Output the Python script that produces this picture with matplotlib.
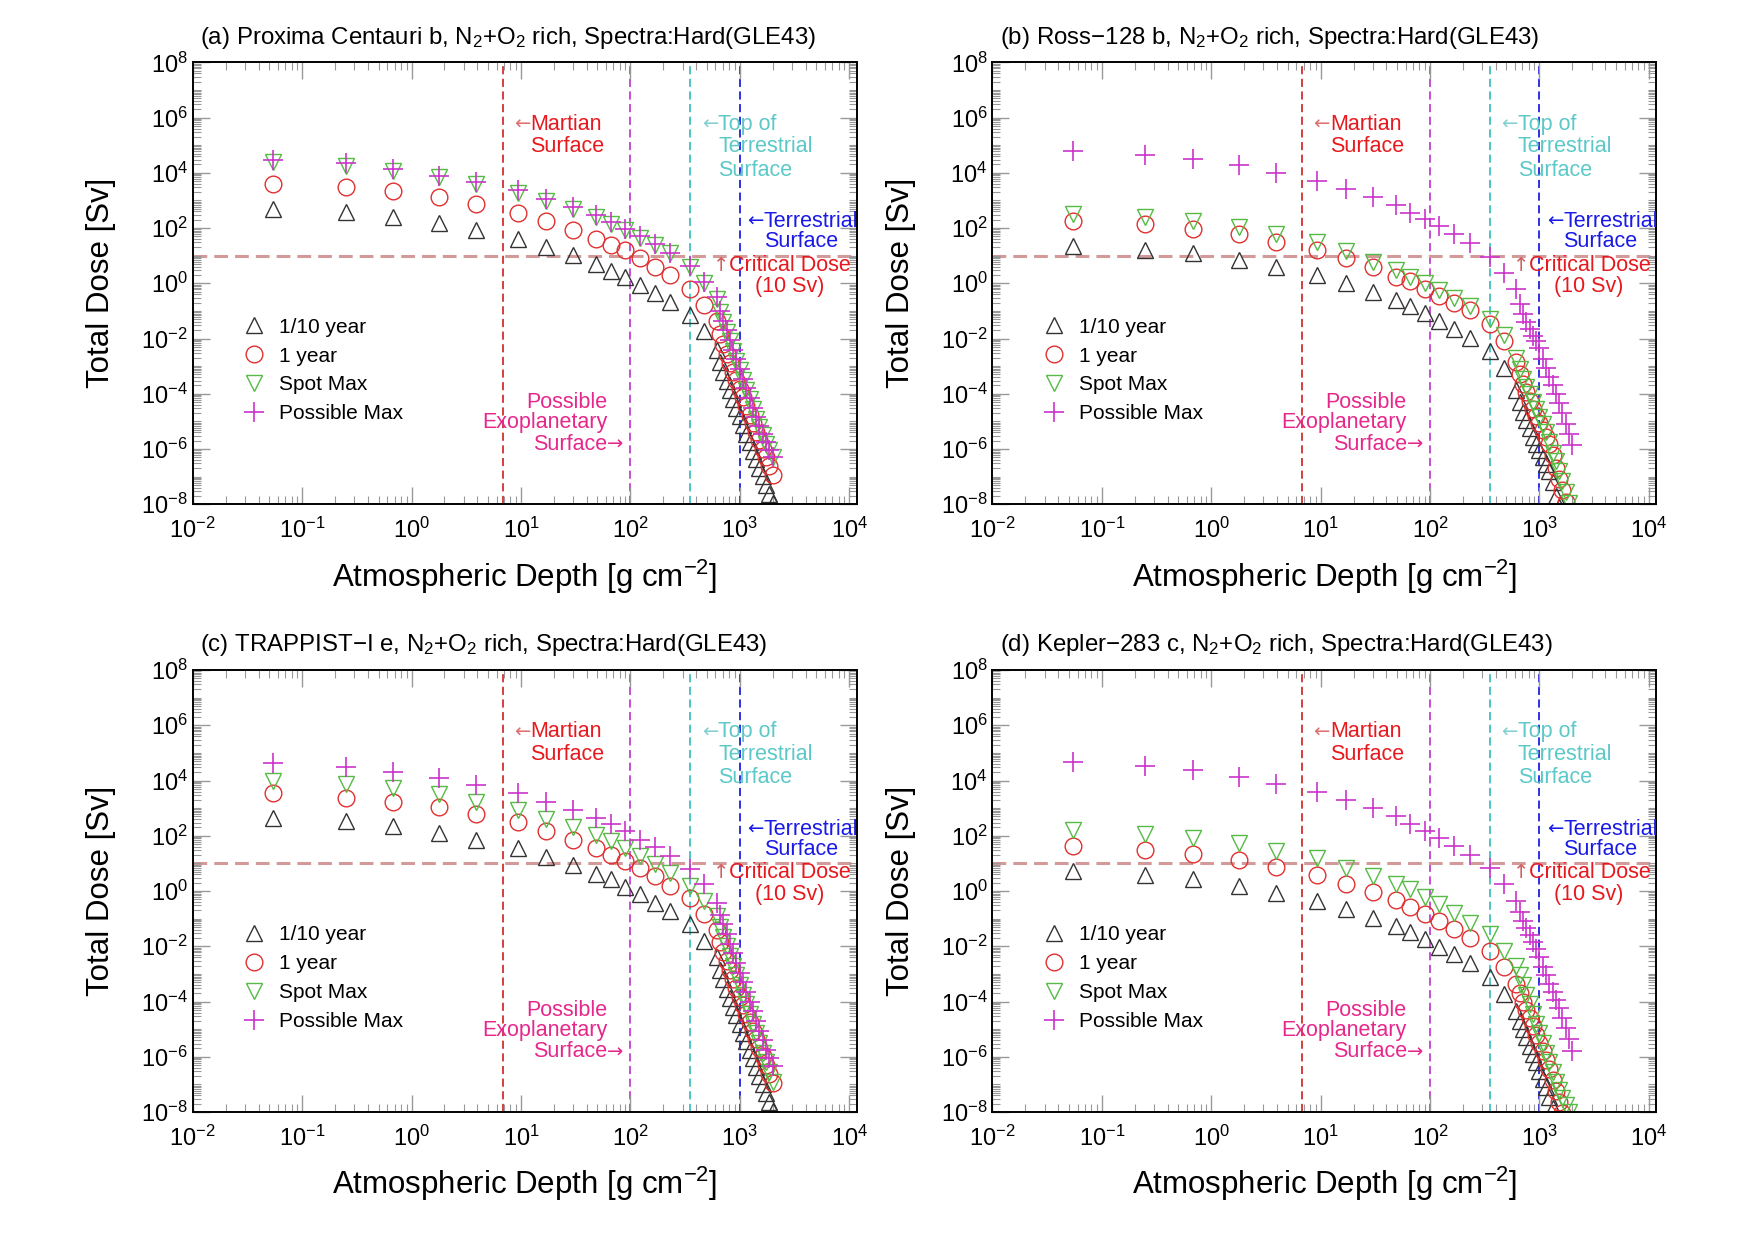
import numpy as np
import matplotlib
matplotlib.use("Agg")
import matplotlib.pyplot as plt
from matplotlib.ticker import LogLocator, NullFormatter

plt.rcParams['font.family'] = ['Liberation Sans', 'DejaVu Sans']
plt.rcParams['mathtext.fontset'] = 'custom'
plt.rcParams['mathtext.rm'] = 'Liberation Sans'
plt.rcParams['mathtext.it'] = 'Liberation Sans:italic'
plt.rcParams['mathtext.bf'] = 'Liberation Sans:bold'

# atmospheric depth [g cm^-2], shared by every series
depth = [0.054, 0.25, 0.68, 1.8, 3.9, 9.3, 17, 30, 49, 66, 90, 122, 167, 230, 350, 475,
         617, 661, 708, 759, 813, 871, 933, 1000, 1072, 1148, 1230, 1318, 1413, 1514,
         1622, 1738, 1862, 1995]

# total dose as log10(Sv)
tenth_a = [2.70, 2.58, 2.40, 2.18, 1.92, 1.62, 1.32, 1.02, 0.70, 0.46, 0.22, -0.06, -0.34, -0.66, -1.14, -1.74,
           -2.40, -2.85, -3.20, -3.55, -3.87, -4.20, -4.50, -4.82, -5.13, -5.44, -5.75, -6.06, -6.37, -6.68,
           -6.99, -7.30, -7.62, -7.95]
year_a = [3.60, 3.48, 3.33, 3.12, 2.86, 2.56, 2.24, 1.94, 1.62, 1.40, 1.20, 0.90, 0.60, 0.30, -0.20, -0.78,
          -1.38, -1.85, -2.20, -2.55, -2.87, -3.20, -3.50, -3.82, -4.13, -4.44, -4.75, -5.06, -5.37, -5.68,
          -5.99, -6.30, -6.62, -6.95]
spot_a = [4.38, 4.26, 4.06, 3.84, 3.60, 3.27, 2.98, 2.70, 2.40, 2.16, 1.92, 1.64, 1.38, 1.08, 0.58, 0.00,
          -0.58, -1.05, -1.40, -1.75, -2.10, -2.45, -2.80, -3.15, -3.50, -3.85, -4.20, -4.55, -4.90, -5.20,
          -5.50, -5.80, -6.05, -6.30]
poss_a = [4.48, 4.34, 4.14, 3.90, 3.66, 3.36, 3.06, 2.78, 2.46, 2.22, 1.96, 1.70, 1.42, 1.10, 0.62, 0.05,
          -0.50, -1.00, -1.35, -1.70, -2.05, -2.40, -2.75, -3.10, -3.45, -3.80, -4.15, -4.50, -4.85, -5.15,
          -5.45, -5.75, -6.05, -6.30]

tenth_b = [1.34, 1.22, 1.08, 0.84, 0.58, 0.30, 0.00, -0.30, -0.60, -0.84, -1.08, -1.36, -1.66, -1.98, -2.46, -3.06,
           -3.85, -4.30, -4.65, -4.95, -5.25, -5.55, -5.80, -6.05, -6.30, -6.55, -6.80, -7.20, -7.70, -8.10,
           -8.50, -8.90, -9.30, -9.70]
year_b = [2.26, 2.14, 1.98, 1.78, 1.50, 1.22, 0.92, 0.58, 0.24, 0.08, -0.22, -0.46, -0.72, -0.96, -1.48, -2.10,
          -2.85, -3.30, -3.65, -3.95, -4.25, -4.55, -4.80, -5.05, -5.30, -5.55, -5.80, -6.20, -6.70, -7.10,
          -7.50, -7.90, -8.30, -8.70]
spot_b = [2.52, 2.40, 2.26, 2.04, 1.80, 1.50, 1.18, 0.78, 0.48, 0.24, 0.00, -0.26, -0.54, -0.84, -1.30, -1.86,
          -2.70, -3.10, -3.45, -3.75, -4.00, -4.30, -4.55, -4.85, -5.10, -5.40, -5.75, -6.15, -6.45, -6.80,
          -7.15, -7.55, -7.95, -8.35]
poss_b = [4.80, 4.66, 4.50, 4.30, 4.01, 3.72, 3.42, 3.12, 2.82, 2.56, 2.34, 2.06, 1.80, 1.46, 0.96, 0.38,
          -0.22, -0.75, -1.10, -1.40, -1.65, -1.90, -2.10, -2.35, -2.75, -3.05, -3.40, -3.70, -4.00, -4.35,
          -4.70, -5.10, -5.45, -5.85]

tenth_c = [2.64, 2.52, 2.34, 2.10, 1.86, 1.54, 1.24, 0.94, 0.62, 0.42, 0.14, -0.12, -0.42, -0.74, -1.20, -1.80,
           -2.40, -2.85, -3.20, -3.55, -3.87, -4.20, -4.50, -4.82, -5.13, -5.44, -5.75, -6.06, -6.37, -6.68,
           -6.99, -7.30, -7.62, -7.95]
year_c = [3.54, 3.38, 3.22, 3.03, 2.79, 2.49, 2.16, 1.86, 1.56, 1.32, 1.08, 0.82, 0.54, 0.20, -0.26, -0.82,
          -1.42, -1.85, -2.20, -2.55, -2.87, -3.20, -3.50, -3.82, -4.13, -4.44, -4.75, -5.06, -5.37, -5.68,
          -5.99, -6.30, -6.62, -6.95]
spot_c = [3.99, 3.87, 3.72, 3.51, 3.24, 2.94, 2.62, 2.30, 2.04, 1.80, 1.56, 1.26, 0.98, 0.66, 0.18, -0.36,
          -0.90, -1.30, -1.65, -2.00, -2.35, -2.70, -3.05, -3.40, -3.75, -4.10, -4.45, -4.80, -5.15, -5.50,
          -5.85, -6.20, -6.55, -6.90]
poss_c = [4.62, 4.50, 4.32, 4.11, 3.84, 3.54, 3.24, 2.94, 2.64, 2.42, 2.16, 1.86, 1.58, 1.26, 0.80, 0.24,
          -0.42, -0.85, -1.20, -1.55, -1.90, -2.25, -2.60, -2.95, -3.30, -3.65, -4.00, -4.35, -4.70, -5.05,
          -5.40, -5.75, -6.05, -6.35]

tenth_d = [0.72, 0.58, 0.42, 0.18, -0.06, -0.36, -0.66, -0.96, -1.26, -1.50, -1.74, -2.02, -2.28, -2.62, -3.10, -3.72,
           -4.35, -4.70, -5.00, -5.30, -5.60, -5.90, -6.20, -6.50, -6.80, -7.10, -7.45, -7.85, -8.25, -8.65,
           -9.05, -9.45, -9.85, -10.25]
year_d = [1.62, 1.48, 1.34, 1.14, 0.86, 0.58, 0.26, -0.04, -0.34, -0.58, -0.82, -1.08, -1.38, -1.70, -2.16, -2.76,
          -3.36, -3.70, -4.00, -4.30, -4.60, -4.90, -5.20, -5.50, -5.80, -6.10, -6.45, -6.85, -7.25, -7.65,
          -8.05, -8.45, -8.85, -9.25]
spot_d = [2.22, 2.08, 1.92, 1.74, 1.46, 1.20, 0.84, 0.54, 0.24, 0.06, -0.22, -0.48, -0.78, -1.14, -1.56, -2.16,
          -2.70, -3.05, -3.40, -3.75, -4.10, -4.45, -4.80, -5.15, -5.50, -5.85, -6.20, -6.55, -6.90, -7.20,
          -7.50, -7.75, -8.00, -8.30]
poss_d = [4.66, 4.53, 4.38, 4.14, 3.87, 3.60, 3.30, 3.00, 2.70, 2.44, 2.18, 1.92, 1.62, 1.32, 0.84, 0.24,
          -0.36, -0.75, -1.08, -1.35, -1.60, -1.85, -2.10, -2.40, -2.75, -3.05, -3.35, -3.65, -3.95, -4.25,
          -4.60, -4.95, -5.35, -5.80]

titles = ["(a) Proxima Centauri b, N$_2$+O$_2$ rich, Spectra:Hard(GLE43)",
          "(b) Ross\u2212128 b, N$_2$+O$_2$ rich, Spectra:Hard(GLE43)",
          "(c) TRAPPIST\u2212I e, N$_2$+O$_2$ rich, Spectra:Hard(GLE43)",
          "(d) Kepler\u2212283 c, N$_2$+O$_2$ rich, Spectra:Hard(GLE43)"]
panels = [(tenth_a, year_a, spot_a, poss_a), (tenth_b, year_b, spot_b, poss_b),
          (tenth_c, year_c, spot_c, poss_c), (tenth_d, year_d, spot_d, poss_d)]
series_labels = ["1/10 year", "1 year", "Spot Max", "Possible Max"]

# reference depths
mars_depth = 6.8
exo_depth = 100
top_terr_depth = 352
terr_depth = 1000
critical_dose = 10

RED = '#e8191e'
CYAN = '#5cc8c8'
BLUE = '#1a1ae6'
PINK = '#e6288c'


def annotate(ax):
    kw = dict(transform=ax.transAxes, fontsize=15.5, va='center', zorder=6, clip_on=False)
    akw = dict(transform=ax.transAxes, fontsize=14, va='center', family='DejaVu Sans',
               zorder=6, clip_on=False)
    ax.text(0.508, 0.860, '\u2190', color='#e07070', ha='right', **akw)
    ax.text(0.508, 0.860, 'Martian', color=RED, ha='left', **kw)
    ax.text(0.508, 0.810, 'Surface', color=RED, ha='left', **kw)

    ax.text(0.791, 0.860, '\u2190', color='#80d0d0', ha='right', **akw)
    ax.text(0.791, 0.860, 'Top of', color=CYAN, ha='left', **kw)
    ax.text(0.791, 0.810, 'Terrestrial', color=CYAN, ha='left', **kw)
    ax.text(0.791, 0.756, 'Surface', color=CYAN, ha='left', **kw)

    ax.text(0.860, 0.640, '\u2190', color=BLUE, ha='right', **akw)
    ax.text(0.860, 0.640, 'Terrestrial', color=BLUE, ha='left', **kw)
    ax.text(0.860, 0.594, 'Surface', color=BLUE, ha='left', **kw)

    ax.text(0.808, 0.541, '\u2191', color='#d06060', ha='right', **akw)
    ax.text(0.808, 0.541, 'Critical Dose', color=RED, ha='left', **kw)
    ax.text(0.846, 0.493, '(10 Sv)', color=RED, ha='left', **kw)

    ax.text(0.624, 0.230, 'Possible', color=PINK, ha='right', **kw)
    ax.text(0.624, 0.184, 'Exoplanetary', color=PINK, ha='right', **kw)
    ax.text(0.624, 0.136, 'Surface', color=PINK, ha='right', **kw)
    ax.text(0.624, 0.136, '\u2192', color=PINK, ha='left', **akw)


fig = plt.figure(figsize=(17.54, 12.39), dpi=100)
positions = [[0.1099, 0.593, 0.3786, 0.3567], [0.5658, 0.593, 0.3786, 0.3567],
             [0.1099, 0.1025, 0.3786, 0.3567], [0.5658, 0.1025, 0.3786, 0.3567]]

x = np.array(depth)
for pos, title, (tenth, year, spot, poss) in zip(positions, titles, panels):
    ax = fig.add_axes(pos)
    ax.set_xscale('log')
    ax.set_yscale('log')

    ax.axvline(mars_depth, color='#d03030', lw=1.3, dashes=(4.5, 2.5), zorder=1)
    ax.axvline(exo_depth, color='#c040d0', lw=1.3, dashes=(4.5, 2.5), zorder=1)
    ax.axvline(top_terr_depth, color='#40c0c0', lw=1.3, dashes=(4.5, 2.5), zorder=1)
    ax.axvline(terr_depth, color='#2020e0', lw=1.3, dashes=(4.5, 2.5), zorder=1)
    ax.axhline(critical_dose, color='#d49a9a', lw=2.2, dashes=(4.5, 2.3), zorder=1)

    ax.plot(x, 10.0 ** np.array(tenth), ls='none', marker='^', ms=12, mfc='none',
            mec='#333333', mew=1.0, label=series_labels[0])
    ax.plot(x, 10.0 ** np.array(year), ls='none', marker='o', ms=12, mfc='none',
            mec='#e03030', mew=1.0, label=series_labels[1])
    ax.plot(x, 10.0 ** np.array(spot), ls='none', marker='v', ms=12, mfc='none',
            mec='#55bb44', mew=1.0, label=series_labels[2])
    ax.plot(x, 10.0 ** np.array(poss), ls='none', marker='+', ms=14, mfc='none',
            mec='#cc33cc', mew=1.2, label=series_labels[3])

    ax.set_xlim(1e-2, 10 ** 4.07)
    ax.set_ylim(1e-8, 1e8)
    ax.set_xticks([1e-2, 1e-1, 1, 10, 100, 1e3, 1e4])
    ax.set_yticks([10.0 ** k for k in range(-8, 9, 2)])
    ax.xaxis.set_minor_locator(LogLocator(base=10, subs=np.arange(2, 10), numticks=20))
    ax.yaxis.set_minor_locator(LogLocator(base=10, subs=np.arange(1, 10), numticks=40))
    ax.xaxis.set_minor_formatter(NullFormatter())
    ax.yaxis.set_minor_formatter(NullFormatter())
    ax.tick_params(which='both', direction='in', top=True, right=True,
                   colors='#999999', labelcolor='black', labelsize=17)
    ax.tick_params(which='major', length=12, width=1.0)
    ax.tick_params(which='minor', length=6, width=0.8)
    ax.tick_params(axis='x', which='major', pad=10)
    for sp in ax.spines.values():
        sp.set_linewidth(1.4)

    ax.set_xlabel('Atmospheric Depth [g cm$^{-2}$]', fontsize=22.5, labelpad=10)
    ax.set_ylabel('Total Dose [Sv]', fontsize=22.5, labelpad=18)
    ax.text(0.011, 1.056, title, transform=ax.transAxes, ha='left', va='center', fontsize=17.3)

    annotate(ax)
    ax.legend(loc='upper left', bbox_to_anchor=(0.077, 0.422), frameon=False, fontsize=15,
              handlelength=1.0, handletextpad=0.7, labelspacing=0.47, borderpad=0,
              borderaxespad=0, numpoints=1)

fig.savefig('out.png', dpi=100)
